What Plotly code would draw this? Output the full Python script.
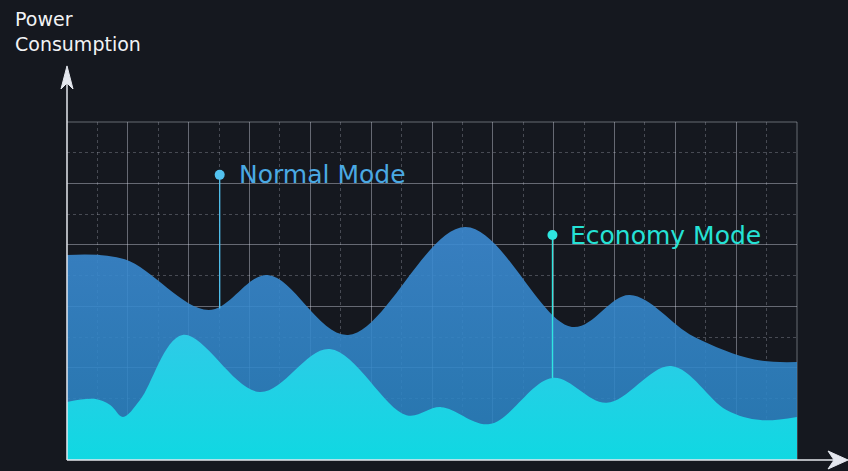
import plotly.graph_objects as go

# ---- data ----
normal_x = [0.00, 0.95, 2.33, 3.30, 4.62, 6.55, 8.30, 9.25, 10.30, 11.30, 12.00]
normal_y = [66.7, 65.3, 48.8, 60.2, 40.7, 75.8, 43.3, 53.7, 40.2, 32.7, 31.9]

eco_x = [0.00, 0.45, 0.71, 0.92, 1.20, 1.90, 3.17, 4.32, 5.58, 6.15, 6.95, 7.98, 8.87, 9.93,
         10.84, 11.40, 12.00]
eco_y = [18.9, 19.9, 17.9, 14.0, 19.5, 40.7, 22.1, 36.1, 14.6, 17.2, 11.7, 26.7, 18.6, 30.6,
         16.3, 13.0, 14.0]

labels = ["Normal Mode", "Economy Mode"]
label_x = [2.51, 7.98]          # marker / leader line position
label_y = [92.8, 73.2]          # marker height
label_base = [49.3, 26.7]       # where leader line meets the curve
label_text_x = [2.79, 8.23]
label_colors = ["#4aa9e3", "#25e2d6"]
dot_colors = ["#52c2f0", "#2ee6e0"]

y_title = "Power<br>Consumption"

BG = "#15181f"

fig = go.Figure()

fig.add_trace(go.Scatter(
    x=normal_x, y=normal_y, mode="lines",
    line=dict(shape="spline", smoothing=1.0, width=0, color="rgba(0,0,0,0)"),
    fill="tozeroy",
    fillgradient=dict(type="vertical",
                      colorscale=[[0, "rgba(40,130,192,0.88)"], [1, "rgba(60,138,210,0.9)"]]),
    hoverinfo="skip", showlegend=False))

fig.add_trace(go.Scatter(
    x=eco_x, y=eco_y, mode="lines",
    line=dict(shape="spline", smoothing=1.0, width=0, color="rgba(0,0,0,0)"),
    fill="tozeroy",
    fillgradient=dict(type="vertical",
                      colorscale=[[0, "#10d8e2"], [1, "#2ecbe7"]]),
    hoverinfo="skip", showlegend=False))

# leader lines and dots
for i in range(2):
    fig.add_trace(go.Scatter(
        x=[label_x[i], label_x[i]], y=[label_base[i], label_y[i]], mode="lines",
        line=dict(color=dot_colors[i], width=1.3), hoverinfo="skip", showlegend=False))
    fig.add_trace(go.Scatter(
        x=[label_x[i]], y=[label_y[i]], mode="markers",
        marker=dict(color=dot_colors[i], size=10, line=dict(width=0)),
        hoverinfo="skip", showlegend=False))
    fig.add_annotation(x=label_text_x[i], y=label_y[i], xref="x", yref="y",
                       text=labels[i], showarrow=False, xanchor="left", yanchor="middle",
                       font=dict(family="DejaVu Sans", size=25, color=label_colors[i]))

fig.add_annotation(x=-0.074, y=1.343, xref="paper", yref="paper", text=y_title,
                   showarrow=False, xanchor="left", yanchor="top", align="left",
                   font=dict(family="DejaVu Sans", size=19, color="#f2f3f5"))

axis_col = "#e4e7ee"
grid_major = "rgba(215,220,232,0.42)"
grid_minor = "rgba(200,205,218,0.28)"

shapes = [
    # top and right borders of the grid
    dict(type="line", xref="paper", yref="paper", x0=0, y0=1, x1=1, y1=1,
         line=dict(color=grid_major, width=1), layer="below"),
    dict(type="line", xref="paper", yref="paper", x0=1, y0=0, x1=1, y1=1,
         line=dict(color=grid_major, width=1), layer="below"),
    # axes with arrows
    dict(type="line", xref="paper", yref="paper", x0=0, y0=0, x1=0, y1=1.124,
         line=dict(color=axis_col, width=1.5)),
    dict(type="path", xref="paper", yref="paper",
         path="M 0 1.166 L -0.00822 1.0976 L 0 1.1154 L 0.00822 1.0976 Z",
         fillcolor=axis_col, line=dict(color=axis_col, width=1)),
    dict(type="line", xref="paper", yref="paper", x0=0, y0=0, x1=1.0589, y1=0,
         line=dict(color=axis_col, width=1.5)),
    dict(type="path", xref="paper", yref="paper",
         path="M 1.0699 0 L 1.0425 0.0266 L 1.0507 0 L 1.0425 -0.0266 Z",
         fillcolor=axis_col, line=dict(color=axis_col, width=1)),
]

fig.update_layout(
    width=848, height=471, autosize=False,
    margin=dict(l=67, r=51, t=122, b=11, pad=0),
    paper_bgcolor=BG, plot_bgcolor=BG,
    shapes=shapes,
    showlegend=False,
    hovermode=False,
    xaxis=dict(range=[0, 12], tick0=0, dtick=1, showgrid=True, gridcolor=grid_major, gridwidth=1,
               showticklabels=False, ticks="", zeroline=False, showline=False, fixedrange=True,
               minor=dict(tick0=0, dtick=0.5, showgrid=True, gridcolor=grid_minor, griddash="dot", gridwidth=1)),
    yaxis=dict(range=[0, 110], tick0=10, dtick=20, showgrid=True, gridcolor=grid_major, gridwidth=1,
               showticklabels=False, ticks="", zeroline=False, showline=False, fixedrange=True,
               minor=dict(tick0=0, dtick=20, showgrid=True, gridcolor=grid_minor, griddash="dot", gridwidth=1)),
)

fig.write_html("out.html", config={"displayModeBar": False},
               post_script="document.body.style.margin='0';document.body.style.background='%s';" % BG)
